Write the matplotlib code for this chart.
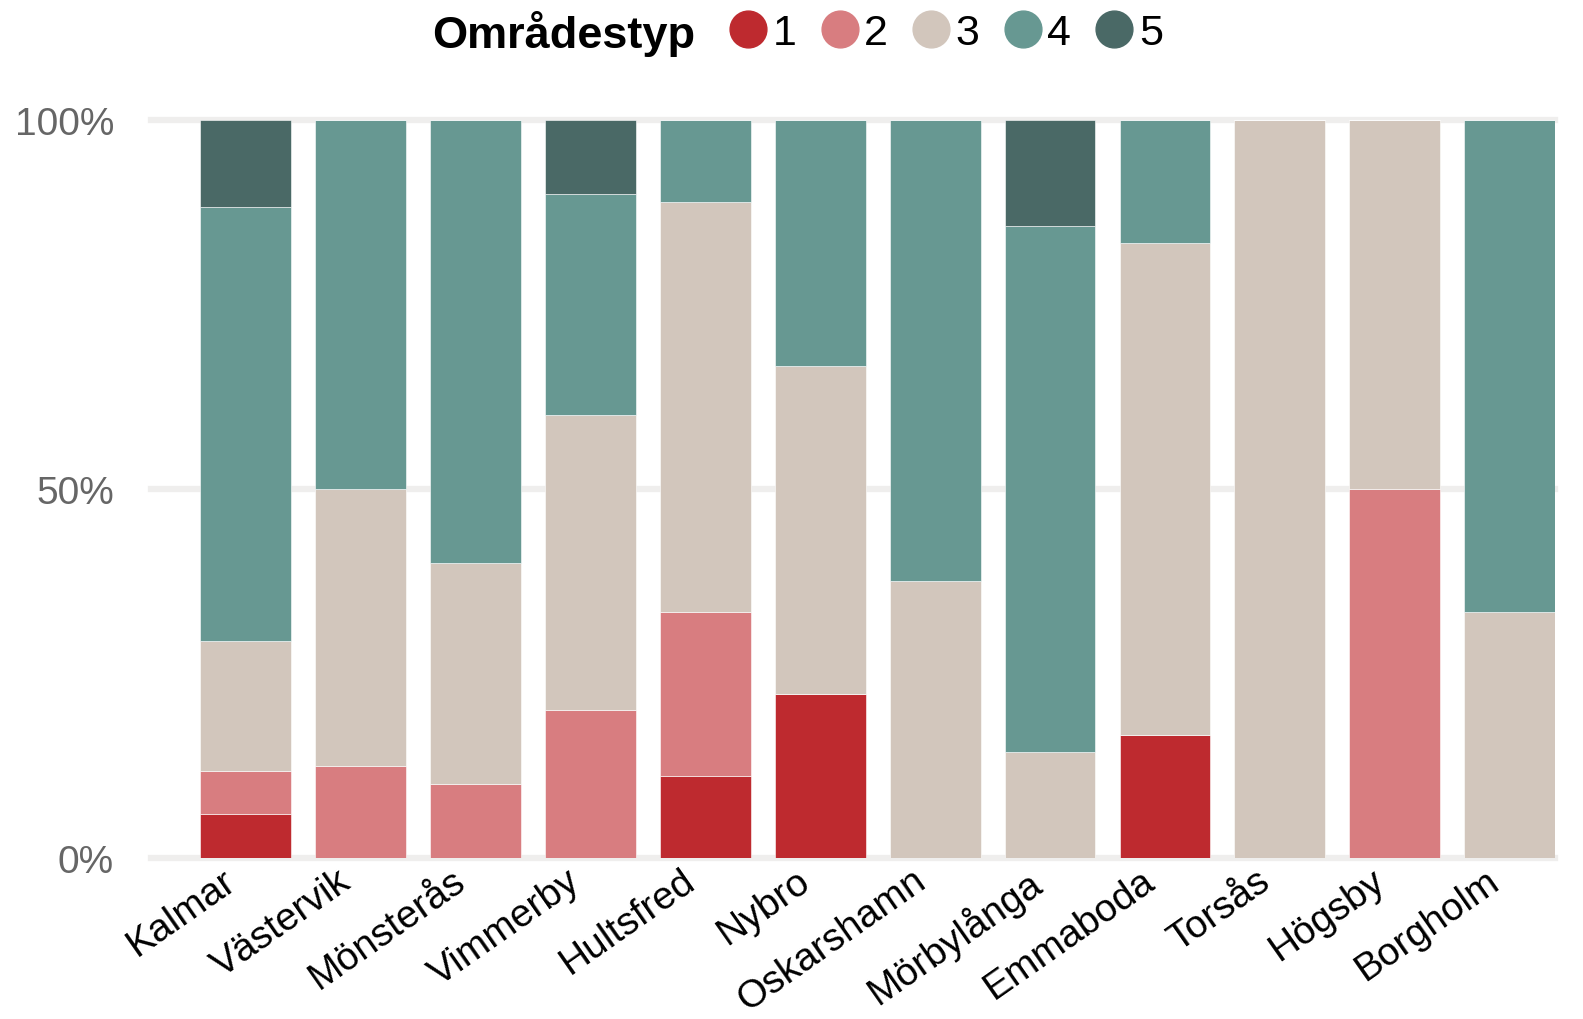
import matplotlib.pyplot as plt
import matplotlib.transforms as mtransforms
from matplotlib.lines import Line2D
import numpy as np

plt.rcParams['font.family'] = ['Liberation Sans', 'DejaVu Sans']

# kommuner och antal områden per områdestyp (1..5)
kommuner = ['Kalmar', 'Västervik', 'Mönsterås', 'Vimmerby', 'Hultsfred', 'Nybro',
            'Oskarshamn', 'Mörbylånga', 'Emmaboda', 'Torsås', 'Högsby', 'Borgholm']
typ1 = [1, 0, 0, 0, 1, 2, 0, 0, 1, 0, 0, 0]
typ2 = [1, 1, 1, 2, 2, 0, 0, 0, 0, 0, 1, 0]
typ3 = [3, 3, 3, 4, 5, 4, 3, 1, 4, 1, 1, 1]
typ4 = [10, 4, 6, 3, 1, 3, 5, 5, 1, 0, 0, 2]
typ5 = [2, 0, 0, 1, 0, 0, 0, 1, 0, 0, 0, 0]
typ_labels = ['1', '2', '3', '4', '5']
farger = ['#BE2A2F', '#D87D80', '#D2C6BC', '#679892', '#4A6966']

counts = np.array([typ1, typ2, typ3, typ4, typ5], dtype=float)
andel = counts / counts.sum(axis=0)

fig = plt.figure(figsize=(15.83, 10.20), dpi=100)
ax = fig.add_axes([0.0957, 0.158, 0.8863, 0.723])

x = np.arange(len(kommuner))
bottom = np.zeros(len(kommuner))
for i in range(5):
    ax.bar(x, andel[i], 0.79, bottom=bottom, color=farger[i],
           edgecolor='white', linewidth=0.4, zorder=3)
    bottom += andel[i]

for yv in [0, 0.5, 1]:
    ax.axhline(yv, color='#EFEEED', lw=4.5, zorder=1, clip_on=False)

ax.set_xlim(-0.82, 11.39)
ax.set_ylim(0, 1)
ax.set_yticks([0, 0.5, 1])
ax.set_yticklabels(['0%', '50%', '100%'], fontsize=28, color='#666666')
ax.set_xticks(x)
ax.set_xticklabels(kommuner, fontsize=28, rotation=35, ha='right',
                   rotation_mode='anchor')
ax.tick_params(length=0, axis='y', pad=27)
ax.tick_params(length=0, axis='x', pad=3)
for s in ax.spines.values():
    s.set_visible(False)

# flytta etiketterna lite åt vänster
offset = mtransforms.ScaledTranslation(-24 / 100, 0, fig.dpi_scale_trans)
for lab in ax.get_xticklabels():
    lab.set_transform(lab.get_transform() + offset)

fig.text(0.273, 0.967, 'Områdestyp', fontsize=32.5, fontweight='bold',
         ha='left', va='center')
handles = [Line2D([], [], ls='none', marker='o', markersize=26.5,
                  markerfacecolor=c, markeredgecolor=c) for c in farger]
fig.legend(handles, typ_labels, loc='center left', bbox_to_anchor=(0.4605, 0.967),
           ncol=5, frameon=False, fontsize=31, handlelength=0.9,
           handletextpad=0.12, columnspacing=0.55, borderpad=0, borderaxespad=0)

fig.savefig('out.png', dpi=100)
